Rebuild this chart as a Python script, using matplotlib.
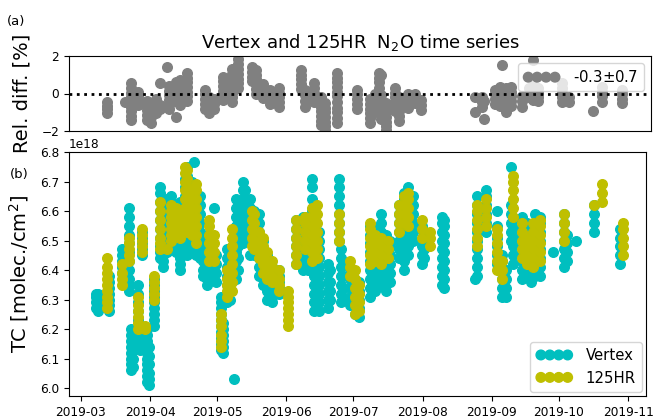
import matplotlib
matplotlib.use("Agg")
import matplotlib.pyplot as plt
import matplotlib.dates as mdates
import pandas as pd

# N2O total columns per measurement day [1e18 molec./cm2]
vertex_days = ['03-07', '03-08', '03-13', '03-19', '03-22', '03-23', '03-24', '03-26', '03-27',
               '03-28', '03-30', '03-31', '04-02', '04-05', '04-06', '04-08', '04-10', '04-12',
               '04-14', '04-16', '04-17', '04-19', '04-20', '04-21', '04-23', '04-24', '04-26',
               '04-28', '04-29', '04-30', '05-02', '05-03', '05-05', '05-06', '05-08', '05-09',
               '05-10', '05-12', '05-13', '05-15', '05-17', '05-19', '05-21', '05-23', '05-25',
               '05-28', '06-05', '06-08', '06-10', '06-12', '06-13', '06-15', '06-19', '06-20',
               '06-24', '06-25', '06-26', '06-29', '07-01', '07-03', '07-08', '07-10', '07-13',
               '07-15', '07-17', '07-21', '07-23', '07-25', '07-27', '07-31', '08-01', '08-09',
               '08-10', '08-24', '08-25', '08-29', '09-03', '09-05', '09-07', '09-09', '09-10',
               '09-14', '09-16', '09-18', '09-20', '09-22', '09-28', '10-03', '10-04', '10-08',
               '10-16', '10-28']
vertex_tc = [
    [6.27, 6.29, 6.31, 6.32], [6.26, 6.28, 6.30, 6.32],
    [6.26, 6.28, 6.30, 6.32, 6.34, 6.36, 6.38], [6.39, 6.41, 6.43, 6.45, 6.47],
    [6.33, 6.35, 6.37, 6.40, 6.43, 6.46, 6.49, 6.52, 6.55, 6.58, 6.61],
    [6.06, 6.08, 6.10, 6.12, 6.14, 6.16, 6.18, 6.20], [6.07, 6.10, 6.13, 6.16, 6.19],
    [6.14, 6.17, 6.20, 6.23, 6.26, 6.29, 6.32, 6.35], [6.13, 6.15, 6.17, 6.19, 6.21],
    [6.45, 6.47, 6.49, 6.51, 6.53],
    [6.02, 6.04, 6.06, 6.08, 6.10, 6.12, 6.14, 6.16, 6.18, 6.20], [6.01, 6.03, 6.05, 6.08, 6.11, 6.14],
    [6.21, 6.23, 6.25, 6.27, 6.29, 6.31, 6.33, 6.35, 6.37],
    [6.44, 6.46, 6.48, 6.51, 6.54, 6.57, 6.60, 6.63, 6.66, 6.68], [6.41, 6.43, 6.45, 6.48, 6.51],
    [6.46, 6.49, 6.52, 6.55, 6.58, 6.61, 6.64], [6.50, 6.52, 6.54, 6.57, 6.60, 6.63, 6.65],
    [6.46, 6.48, 6.50, 6.53, 6.56, 6.59, 6.62],
    [6.40, 6.42, 6.44, 6.47, 6.50, 6.53, 6.56, 6.59, 6.63],
    [6.47, 6.50, 6.53, 6.56, 6.59, 6.62, 6.65, 6.68, 6.71],
    [6.45, 6.48, 6.51, 6.54, 6.57, 6.60, 6.63, 6.66, 6.69, 6.72, 6.75],
    [6.46, 6.49, 6.52, 6.55, 6.58, 6.61, 6.64, 6.67, 6.70],
    [6.765, 6.47, 6.50, 6.53, 6.56, 6.59, 6.62, 6.65, 6.68],
    [6.45, 6.48, 6.51, 6.54, 6.57, 6.60, 6.63],
    [6.44, 6.47, 6.50, 6.53, 6.56, 6.59, 6.62, 6.65], [6.38, 6.40, 6.43, 6.46, 6.49, 6.52],
    [6.35, 6.37, 6.39, 6.42, 6.45, 6.48, 6.51], [6.37, 6.40, 6.43, 6.46], [6.61],
    [6.36, 6.39, 6.42, 6.45],
    [6.13, 6.15, 6.17, 6.19, 6.21, 6.23, 6.25, 6.27, 6.29, 6.31], [6.12, 6.14, 6.16, 6.18, 6.20, 6.22],
    [6.29, 6.32, 6.35, 6.38, 6.41, 6.44, 6.47], [6.30, 6.33, 6.36, 6.39, 6.42], [6.03],
    [6.37, 6.40, 6.43, 6.46, 6.49, 6.52, 6.55, 6.58, 6.61, 6.64],
    [6.40, 6.44, 6.48, 6.52, 6.56, 6.60, 6.63],
    [6.49, 6.52, 6.55, 6.58, 6.61, 6.64, 6.67, 6.70], [6.52, 6.55, 6.58, 6.61, 6.64, 6.67],
    [6.45, 6.55, 6.58, 6.61, 6.64], [6.45, 6.49, 6.52, 6.55, 6.58, 6.60],
    [6.38, 6.41, 6.44, 6.47, 6.50, 6.53, 6.56, 6.59], [6.35, 6.38, 6.41, 6.44, 6.47, 6.50],
    [6.30, 6.33, 6.36, 6.39, 6.42, 6.45], [6.29, 6.31, 6.33, 6.35, 6.38, 6.41],
    [6.32, 6.34, 6.36, 6.38, 6.40],
    [6.42, 6.45, 6.48, 6.51, 6.54, 6.57], [6.40, 6.43, 6.46, 6.49, 6.52, 6.55, 6.58],
    [6.40, 6.43, 6.46, 6.49, 6.52, 6.55, 6.58],
    [6.40, 6.44, 6.48, 6.52, 6.56, 6.60, 6.64, 6.68, 6.71],
    [6.26, 6.29, 6.32, 6.35, 6.38, 6.41, 6.44, 6.47, 6.50, 6.53, 6.56, 6.59],
    [6.26, 6.29, 6.32, 6.35, 6.38, 6.41, 6.44, 6.47, 6.50, 6.53],
    [6.27, 6.30, 6.33, 6.36, 6.39, 6.42], [6.30, 6.33, 6.36, 6.40],
    [6.50, 6.53, 6.56, 6.59, 6.62, 6.65, 6.68, 6.71], [6.29, 6.32, 6.35, 6.38, 6.41, 6.44, 6.47],
    [6.30, 6.34, 6.38, 6.42], [6.28, 6.31, 6.34, 6.37, 6.39], [6.25, 6.28, 6.31, 6.34],
    [6.24, 6.27, 6.30, 6.33, 6.36],
    [6.31, 6.34, 6.37, 6.40, 6.43, 6.46, 6.49, 6.52, 6.55],
    [6.33, 6.36, 6.39, 6.42, 6.45, 6.48, 6.51, 6.54],
    [6.35, 6.38, 6.41, 6.44, 6.47, 6.50, 6.53, 6.56, 6.59],
    [6.33, 6.36, 6.39, 6.42, 6.45, 6.48, 6.52], [6.36, 6.39, 6.42, 6.45, 6.48, 6.50],
    [6.44, 6.47, 6.50, 6.53, 6.56, 6.59, 6.62],
    [6.40, 6.43, 6.46, 6.49, 6.52, 6.55, 6.58, 6.61, 6.64, 6.66],
    [6.45, 6.48, 6.51, 6.54, 6.57, 6.60, 6.63, 6.66, 6.68], [6.50, 6.53, 6.56, 6.59, 6.62, 6.65],
    [6.42, 6.45, 6.48, 6.51, 6.55], [6.44, 6.47, 6.50, 6.53],
    [6.35, 6.38, 6.41, 6.44, 6.47, 6.50, 6.53, 6.56, 6.58],
    [6.34, 6.37, 6.40, 6.43, 6.46, 6.49, 6.52, 6.55, 6.57], [6.37],
    [6.38, 6.41, 6.44, 6.47, 6.50, 6.53, 6.56, 6.59, 6.62, 6.65],
    [6.53, 6.56, 6.59, 6.62, 6.65, 6.67], [6.42, 6.45, 6.48, 6.51, 6.55, 6.60],
    [6.31, 6.34, 6.37, 6.40, 6.43, 6.45], [6.31, 6.34, 6.37, 6.40],
    [6.50, 6.53, 6.56, 6.59, 6.62, 6.75], [6.42, 6.45, 6.48, 6.51, 6.54, 6.57],
    [6.37, 6.40, 6.43, 6.46, 6.49, 6.52, 6.55, 6.58], [6.38, 6.41, 6.44, 6.47, 6.50, 6.53, 6.56],
    [6.36, 6.39, 6.42, 6.45, 6.48, 6.51], [6.38, 6.41, 6.44, 6.47, 6.50, 6.53, 6.56, 6.59],
    [6.38, 6.41, 6.44, 6.47, 6.50, 6.53, 6.56, 6.58], [6.46],
    [6.41, 6.44, 6.47, 6.50, 6.53, 6.56, 6.59], [6.43, 6.46, 6.49, 6.52], [6.50],
    [6.53, 6.56, 6.59, 6.62], [6.42, 6.45, 6.48, 6.51, 6.54],
]

hr_days = ['03-12', '03-19', '03-22', '03-26', '03-28', '03-29', '04-02', '04-05', '04-08',
           '04-10', '04-12', '04-14', '04-16', '04-17', '04-19', '04-21', '04-27', '04-29',
           '05-02', '05-05', '05-07', '05-16', '05-17', '05-19', '05-21', '05-23', '05-25',
           '05-28', '06-01', '06-05', '06-09', '06-12', '06-14', '06-24', '06-29', '07-01',
           '07-03', '07-08', '07-10', '07-13', '07-16', '07-21', '07-23', '07-25', '07-31',
           '08-04', '08-25', '08-29', '09-03', '09-05', '09-10', '09-14', '09-16', '09-19',
           '09-22', '10-03', '10-16', '10-20', '10-29']
hr_tc = [
    [6.27, 6.29, 6.31, 6.33, 6.35, 6.37, 6.39, 6.41, 6.44], [6.35, 6.37, 6.39, 6.42],
    [6.43, 6.45, 6.47, 6.49, 6.51], [6.20, 6.22, 6.24, 6.26, 6.28, 6.31],
    [6.46, 6.48, 6.50, 6.52, 6.54], [6.20, 6.21], [6.30, 6.32, 6.34, 6.36, 6.38],
    [6.47, 6.49, 6.51, 6.54, 6.57, 6.60, 6.63], [6.47],
    [6.50, 6.52, 6.54, 6.56, 6.58, 6.60, 6.62], [6.52, 6.54, 6.56, 6.58, 6.61],
    [6.51, 6.53, 6.55, 6.57, 6.60], [6.55, 6.58, 6.61, 6.64, 6.67, 6.70, 6.73, 6.75],
    [6.53, 6.56, 6.59, 6.62, 6.65, 6.68, 6.71, 6.74], [6.52, 6.55, 6.58, 6.61, 6.64, 6.67],
    [6.49, 6.52, 6.55, 6.58, 6.61, 6.64, 6.67, 6.69], [6.43, 6.46, 6.49, 6.52, 6.55, 6.57],
    [6.43, 6.46, 6.49, 6.52], [6.14, 6.16, 6.18, 6.21, 6.23, 6.25],
    [6.31, 6.33, 6.35, 6.37, 6.40], [6.33, 6.36, 6.39, 6.42, 6.45, 6.48, 6.51, 6.54],
    [6.48, 6.51, 6.54, 6.57, 6.60], [6.47, 6.50, 6.53, 6.56, 6.59], [6.44, 6.47, 6.50, 6.53],
    [6.39, 6.42, 6.45, 6.48, 6.51], [6.37, 6.40, 6.43, 6.46], [6.36, 6.38, 6.41, 6.43],
    [6.33, 6.35, 6.37, 6.40], [6.21, 6.23, 6.25, 6.27, 6.29, 6.31, 6.33],
    [6.42, 6.45, 6.48, 6.51, 6.54, 6.57], [6.47, 6.50, 6.53, 6.56, 6.58],
    [6.43, 6.46, 6.49, 6.52, 6.55, 6.58, 6.61], [6.44, 6.47, 6.50, 6.53, 6.56, 6.59, 6.62],
    [6.50, 6.53, 6.56, 6.59], [6.38, 6.41, 6.43], [6.25, 6.28, 6.31, 6.34, 6.37, 6.40],
    [6.26, 6.29, 6.32, 6.35], [6.42, 6.45, 6.48, 6.51, 6.54, 6.56], [6.43, 6.46, 6.49, 6.52],
    [6.42, 6.45, 6.48, 6.51], [6.44, 6.47, 6.50], [6.53, 6.56, 6.59, 6.62],
    [6.56, 6.59, 6.62, 6.65], [6.55, 6.58, 6.61, 6.64, 6.66], [6.51, 6.54, 6.57],
    [6.48, 6.51, 6.53], [6.48, 6.51, 6.54, 6.57, 6.60, 6.62], [6.55, 6.58, 6.61, 6.64],
    [6.40, 6.43, 6.46, 6.49, 6.52, 6.54], [6.37, 6.40, 6.43],
    [6.58, 6.61, 6.64, 6.67, 6.70, 6.72], [6.44, 6.47, 6.50, 6.53, 6.56],
    [6.42, 6.45, 6.48, 6.51], [6.41, 6.44, 6.47, 6.50, 6.53, 6.56],
    [6.43, 6.46, 6.49, 6.52, 6.55, 6.57], [6.50, 6.53, 6.56, 6.59], [6.62],
    [6.63, 6.66, 6.69], [6.45, 6.48, 6.51, 6.54, 6.56],
]

# relative difference 125HR vs Vertex [%]
diff_days = ['03-12', '03-20', '03-23', '03-26', '03-30', '04-01', '04-03', '04-05', '04-08',
             '04-09', '04-12', '04-14', '04-17', '04-25', '04-27', '04-29', '05-03', '05-07',
             '05-10', '05-16', '05-18', '05-21', '05-24', '05-28', '06-07', '06-09', '06-13',
             '06-16', '06-18', '06-23', '07-02', '07-08', '07-10', '07-12', '07-13', '07-15',
             '07-19', '07-21', '07-25', '07-28', '07-31', '08-24', '08-27', '08-28', '09-02',
             '09-04', '09-05', '09-07', '09-09', '09-14', '09-17', '09-19', '09-21', '10-02',
             '10-05', '10-16', '10-20', '10-29']
diff_vals = [
    [-1.06, -0.85, -0.65, -0.45], [-0.45], [0.55, 0.3, 0.05, -0.2, -0.45, -0.7, -0.95, -1.2, -1.4],
    [0.1, -0.15, -0.4, -0.6], [-0.4, -0.65, -0.9, -1.15, -1.4], [-0.5, -0.75, -1.0, -1.25, -1.55],
    [-0.3, -0.55, -0.8, -1.05], [0.54, -0.6, -0.85], [1.43], [0.4, 0.15, -0.1, -0.35, -0.6, -0.85],
    [0.6, 0.35, 0.1, -0.15, -0.4, -1.24], [0.7, 0.45, 0.2, -0.05, -0.3, -0.6],
    [1.08, 0.85, 0.6, 0.35, 0.1, -0.15, -0.4], [0.2, -0.05, -0.3, -0.55, -0.8],
    [-0.2, -0.45, -0.7, -0.95, -1.06], [-0.3, -0.55, -0.8], [0.9, 0.65, 0.4, 0.15, -0.1, -0.35],
    [1.3, 1.05, 0.8, 0.55, 0.3, 0.05, -0.2, -0.45], [1.82, 1.55, 1.3, 1.05, 0.8, 0.55, 0.3],
    [1.4, 1.15, 0.9, 0.65], [1.25, 1.0, 0.75, 0.5, 0.25, 0.0], [0.5, 0.25, 0.0, -0.25],
    [0.2, -0.05, -0.3, -0.55], [0.3, 0.05, -0.2, -0.45, -0.7], [1.25, 1.0, 0.75, 0.5, 0.25],
    [0.2, -0.1, -0.4, -0.7], [0.55, 0.3, 0.05, -0.2, -0.45],
    [-0.2, -0.45, -0.7, -0.95, -1.2, -1.45, -1.7], [-0.5, -0.75, -1.0, -1.25, -1.5, -1.75, -1.95],
    [1.1, 0.85, 0.6, 0.35, 0.1, -0.15, -0.45, -0.75, -1.0, -1.3, -1.55],
    [0.2, -0.05, -0.3, -0.55, -0.85], [-0.3, -0.55, -0.8, -1.05, -1.3, -1.55],
    [0.0, -0.25, -0.5, -0.75, -1.0], [1.08, 0.85, 0.6, 0.3, -0.2, -0.45, -0.7],
    [1.0, -0.1, -0.35, -0.6, -0.85, -1.1, -1.35], [-0.5, -0.75, -1.0, -1.25, -1.5, -1.75, -1.95],
    [0.3, 0.05, -0.2, -0.45, -0.7, -0.95], [-0.2, -0.45, -0.7, -0.95, -1.2, -1.45],
    [0.0, -0.25, -0.5, -0.75], [0.0, -0.25, -0.5], [-0.35, -0.6, -0.88], [-0.2, -0.97],
    [-0.2, -0.45, -0.7], [-1.36, -0.4], [0.2, -0.05, -0.3, -0.55], [0.36, 0.1, -0.15, -0.4, -0.65],
    [1.52], [-0.97, 0.3, 0.05, -0.2, -0.45], [0.36, 0.1, -0.15, -0.4, -0.65], [-0.15, -0.4, -0.7],
    [0.3, 0.05, -0.2], [1.79, 0.4, 0.15, -0.1, -0.35], [0.3, 0.05, -0.2, -0.4],
    [0.54, 0.3, 0.05, -0.2, -0.45], [-0.2, -0.45], [-0.92], [0.36, 0.1, -0.15, -0.45],
    [0.19, -0.05, -0.3, -0.52],
]
diff_label = '-0.3$\\pm$0.7'


def flatten(days, vals, scale=1.0):
    xs, ys = [], []
    for d, v in zip(days, vals):
        for y in v:
            xs.append(pd.Timestamp('2019-' + d + ' 12:00'))
            ys.append(y * scale)
    return xs, ys


fig = plt.figure(figsize=(6.54, 4.18), dpi=100)
ax1 = fig.add_axes([69 / 654, 1 - 131 / 418, 582 / 654, 75 / 418])
ax2 = fig.add_axes([69 / 654, 1 - 396 / 418, 577 / 654, 244 / 418])

ms = 48
x0 = pd.Timestamp('2019-03-01')

# (a) relative difference
x, y = flatten(diff_days, diff_vals)
ax1.scatter(x, y, s=ms, color='grey', label=diff_label, zorder=2)
ax1.axhline(0, color='k', ls=':', lw=2, zorder=3)
ax1.set_xlim(x0 - pd.Timedelta(days=5.37), x0 + pd.Timedelta(days=255.3))
ax1.set_ylim(-2, 2)
ax1.set_yticks([-2, 0, 2])
ax1.set_xticks([])
ax1.set_ylabel('Rel. diff. [%]', fontsize=14)
ax1.set_title('Vertex and 125HR  N$_2$O time series', fontsize=13, pad=6)
ax1.tick_params(labelsize=8.7)
ax1.legend(loc='upper right', scatterpoints=4, scatteryoffsets=[0.5], fontsize=10.7,
           borderaxespad=0.5, handletextpad=0.9, handlelength=2.4)

# (b) total columns
x, y = flatten(vertex_days, vertex_tc, 1e18)
ax2.scatter(x, y, s=ms, color='c', label='Vertex', zorder=2)
x, y = flatten(hr_days, hr_tc, 1e18)
ax2.scatter(x, y, s=ms, color='y', label='125HR', zorder=3)
ax2.set_xlim(x0 - pd.Timedelta(days=5.37), x0 + pd.Timedelta(days=253.0))
ax2.set_ylim(5.973e18, 6.8e18)
ax2.set_yticks([6.0e18 + i * 0.1e18 for i in range(9)])
ax2.xaxis.set_major_locator(mdates.MonthLocator())
ax2.xaxis.set_major_formatter(mdates.DateFormatter('%Y-%m'))
ax2.tick_params(labelsize=8.7)
ax2.yaxis.get_offset_text().set_fontsize(8.7)
ax2.set_ylabel('TC [molec./cm$^2$]', fontsize=14)
ax2.legend(loc='lower right', scatterpoints=4, scatteryoffsets=[0.5], fontsize=10.7,
           borderaxespad=0.3, handletextpad=0.9, handlelength=2.4)

ax1.yaxis.set_label_coords(-0.064, 0.5)
ax2.yaxis.set_label_coords(-0.065, 0.5)

fig.text(7 / 654, 1 - 15 / 418, '(a)', fontsize=9.5, va='top')
fig.text(10 / 654, 1 - 168 / 418, '(b)', fontsize=9.5, va='top')

fig.savefig('out.png', dpi=100)
